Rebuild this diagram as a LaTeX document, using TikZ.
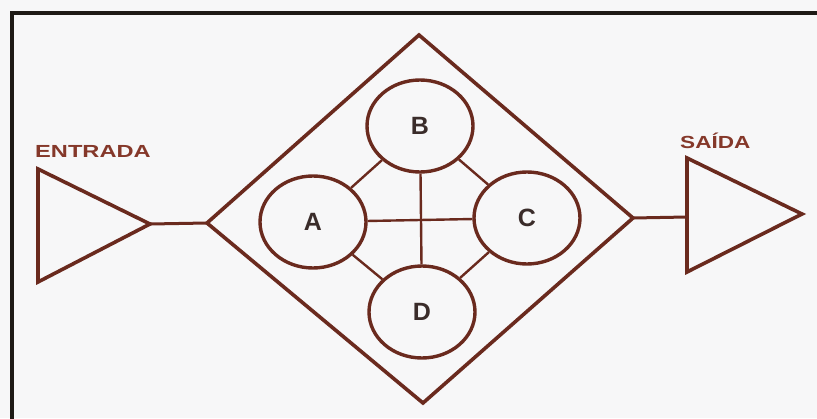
\documentclass[tikz,border=0pt]{standalone}
\usepackage{fontspec}
\setmainfont{Liberation Sans}
\usetikzlibrary{shapes.geometric}
\definecolor{ink}{HTML}{6A2A1E}
\definecolor{letterink}{HTML}{3A2C2A}
\definecolor{labelink}{HTML}{85382A}
\definecolor{paper}{HTML}{F7F7F8}
\definecolor{frameink}{HTML}{1E1A16}
\begin{document}
\begin{tikzpicture}[x=1pt,y=-1pt,
  outline/.style={draw=ink,line width=3.6pt,line join=miter},
  link/.style={draw=ink,line width=2.4pt},
  room/.style={ellipse,draw=ink,line width=3.4pt,minimum width=106pt,minimum height=92pt,inner sep=0pt,
    font=\fontsize{25}{25}\selectfont\bfseries,text=letterink},
  tag/.style={font=\fontsize{17.5}{18}\selectfont\bfseries,text=labelink,inner sep=0pt}]
\fill[paper] (0,0) rectangle (817,418);
\useasboundingbox (0,0) rectangle (817,418);
% frame
\draw[frameink,line width=3.2pt] (817,13) -- (12,13) -- (12,419);
% diamond
\coordinate (dT) at (419,35);
\coordinate (dR) at (633,218);
\coordinate (dB) at (423,403);
\coordinate (dL) at (207,223);
\draw[outline] (dT) -- (dR) -- (dB) -- (dL) -- cycle;
% rooms
\node[room] (B) at (420,126) {B};
\node[room] (A) at (313,222) {A};
\node[room] (C) at (527,218) {C};
\node[room] (D) at (422,312) {D};
\draw[link] (A) -- (B);
\draw[link] (B) -- (C);
\draw[link] (A) -- (D);
\draw[link] (C) -- (D);
\draw[link] (A) -- (C);
\draw[link] (B) -- (D);
% input triangle
\coordinate (inTop) at (38,169);
\coordinate (inBot) at (38,282);
\coordinate (inTip) at (150,224);
\draw[outline] (inTop) -- (inTip) -- (inBot) -- cycle;
\draw[link,line width=3pt] (inTip) -- (dL);
% output triangle
\coordinate (outTop) at (687,158);
\coordinate (outBot) at (687,272);
\coordinate (outMid) at (687,217);
\coordinate (outTip) at (802,214);
\draw[outline] (outTop) -- (outTip) -- (outBot) -- cycle;
\draw[link,line width=3pt] (dR) -- (outMid);
% labels
\node[tag,anchor=base west] (entrada) at (35,157) {\scalebox{1.35}[1]{ENTRADA}};
\node[tag,anchor=base west] (saida) at (680,148) {\scalebox{1.29}[1]{SAÍDA}};
\end{tikzpicture}
\end{document}
